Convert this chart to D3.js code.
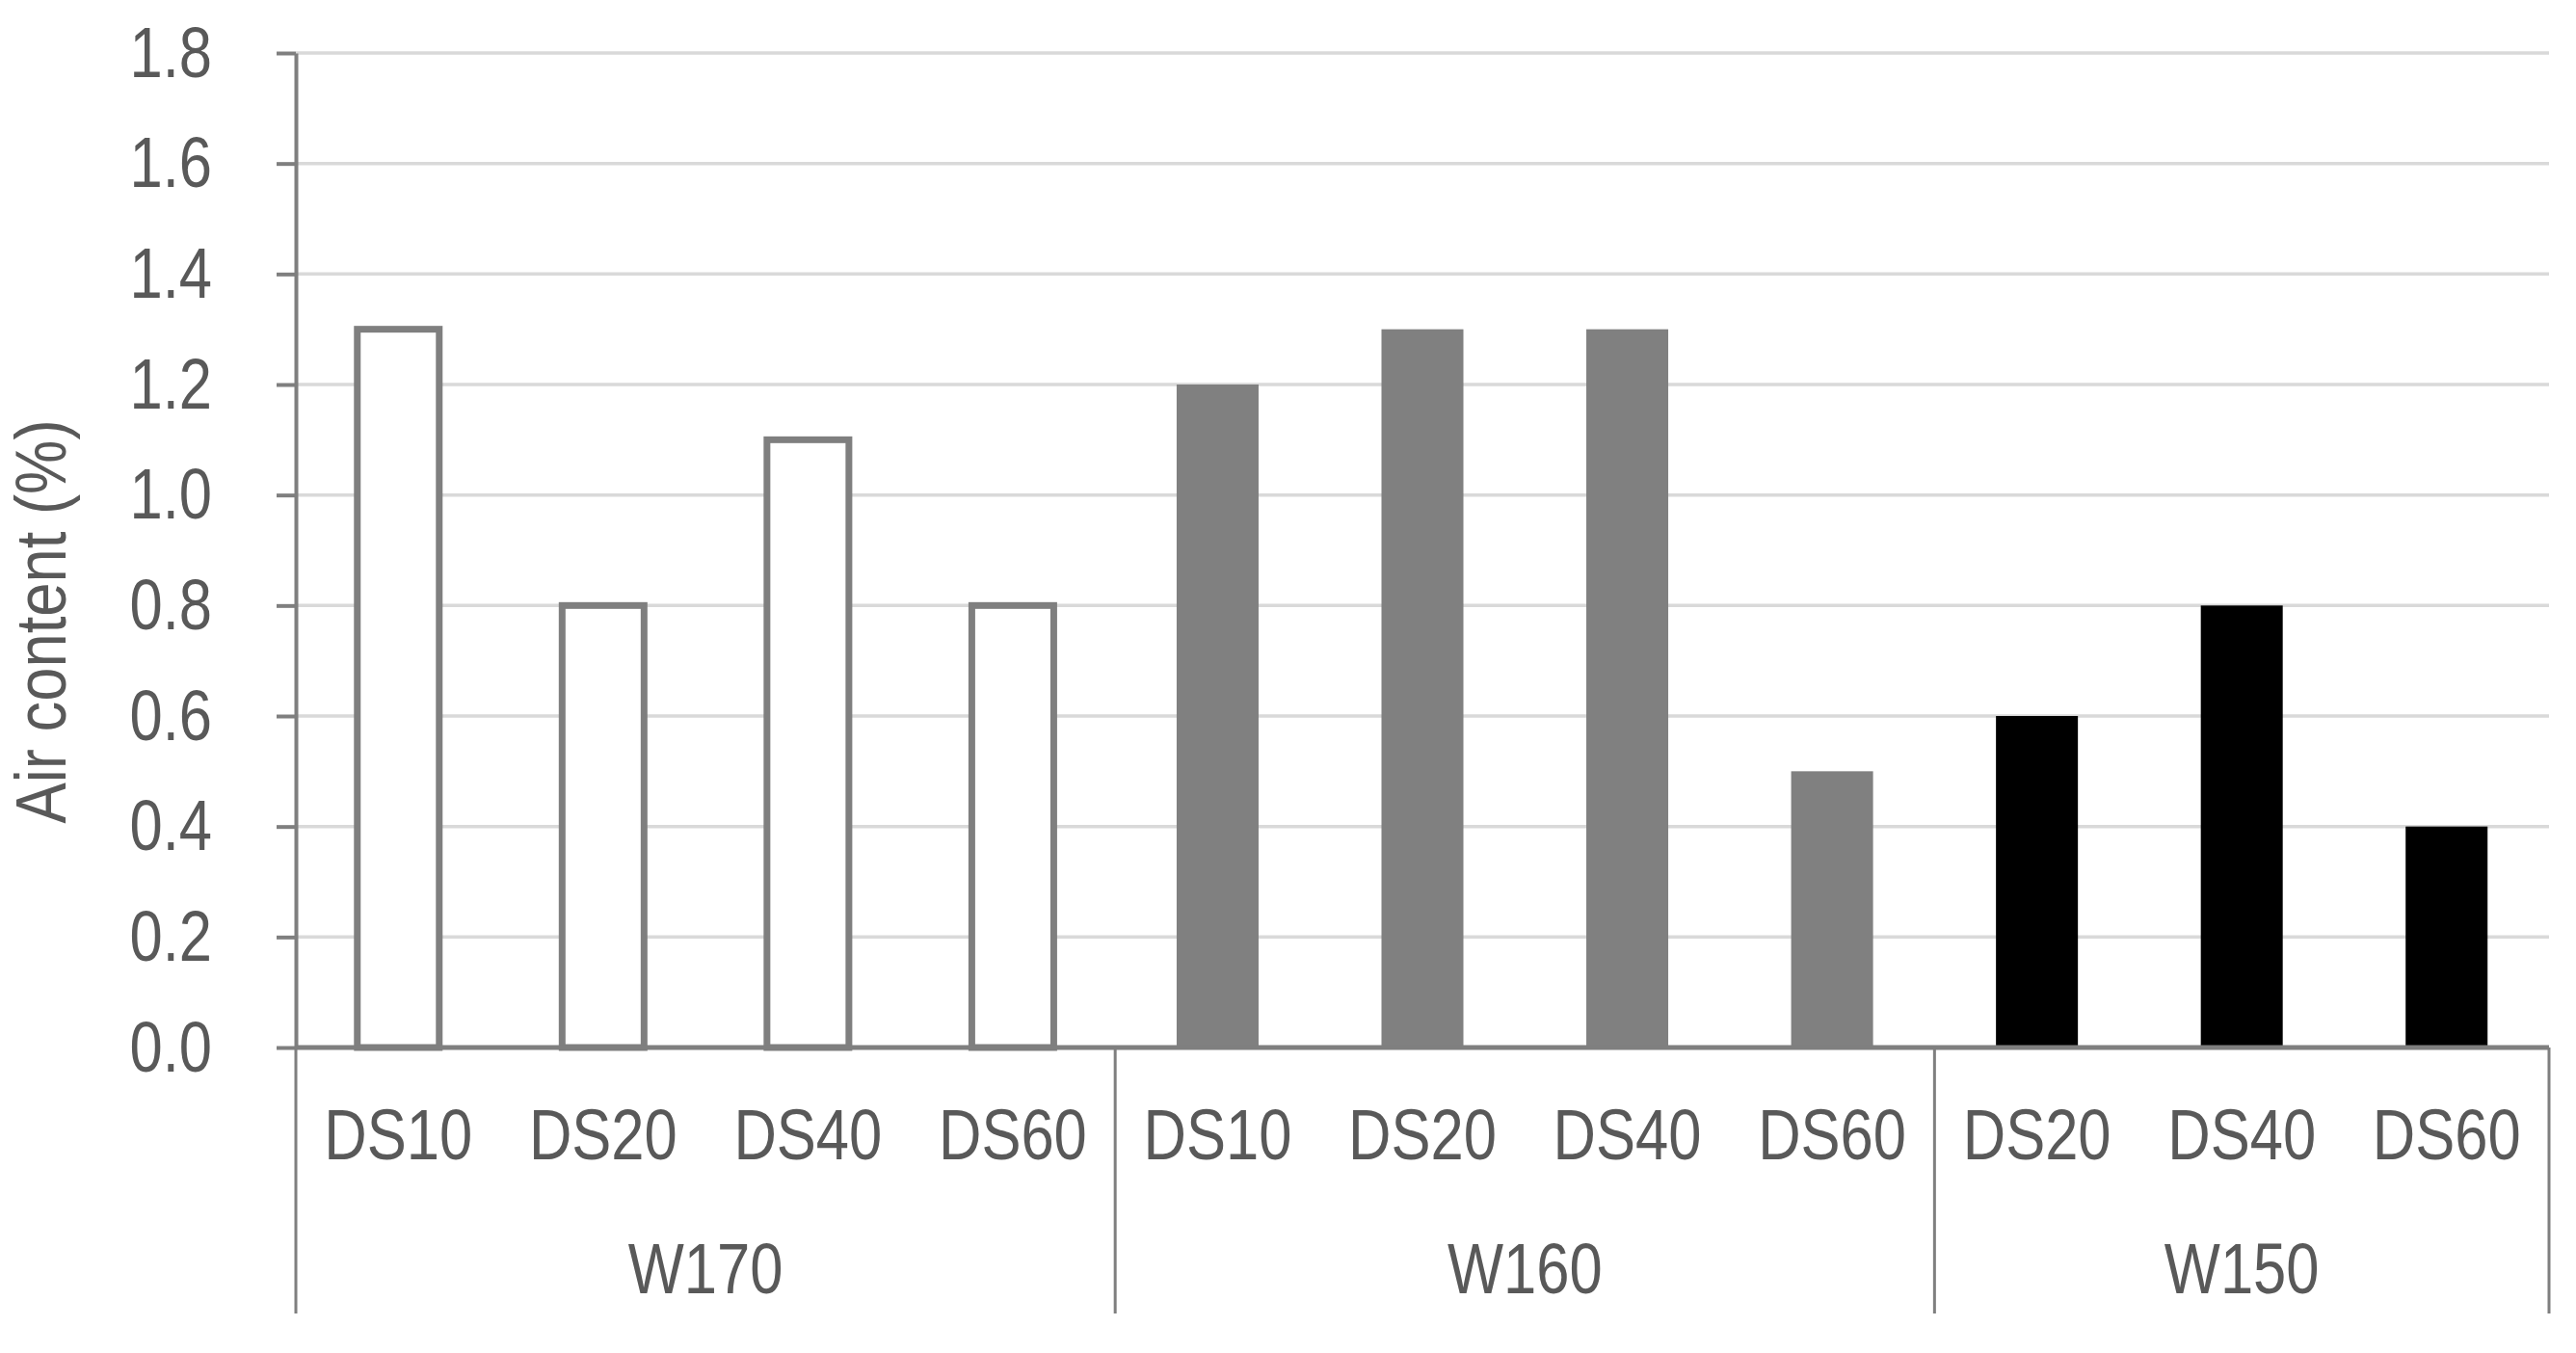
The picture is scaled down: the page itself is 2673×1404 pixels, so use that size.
<!DOCTYPE html>
<html lang="en">
<head>
  <meta charset="UTF-8" />
  <title>Air content</title>
  <script src="https://cdn.jsdelivr.net/npm/d3@7"></script>
  <style>
    body {
      margin: 0;
      background: white;
    }
    svg text {
      font-family: "Liberation Sans Narrow", "Arial Narrow", "Liberation Sans", Arial, sans-serif;
      font-size: 75px;
      fill: #595959;
    }
  </style>
</head>
<body>
  <div id="chart"></div>

  <script>
    // data
    const groups = ["W170", "W160", "W150"];
    const mixes = [
      ["DS10", "DS20", "DS40", "DS60"],
      ["DS10", "DS20", "DS40", "DS60"],
      ["DS20", "DS40", "DS60"]
    ];
    const airContent = [
      [1.3, 0.8, 1.1, 0.8],
      [1.2, 1.3, 1.3, 0.5],
      [0.6, 0.8, 0.4]
    ];
    const yTicks = [0, 0.2, 0.4, 0.6, 0.8, 1.0, 1.2, 1.4, 1.6, 1.8];
    const yTitle = "Air content (%)";

    const width = 2673;
    const height = 1404;
    const plotLeft = 307, plotRight = 2645, plotTop = 55, plotBottom = 1087;

    const barFill = { W170: "white", W160: "#808080", W150: "black" };
    const barStroke = { W170: "#7f7f7f", W160: "none", W150: "none" };

    const rows = [];
    groups.forEach((g, gi) => {
      mixes[gi].forEach((m, mi) => {
        rows.push({ key: g + "|" + m, group: g, mix: m, value: airContent[gi][mi] });
      });
    });

    const svg = d3.select("#chart")
      .append("svg")
      .attr("width", width)
      .attr("height", height);

    const x = d3.scaleBand()
      .domain(rows.map(d => d.key))
      .range([plotLeft, plotRight])
      .paddingInner(0.6)
      .paddingOuter(0.3);

    const y = d3.scaleLinear()
      .domain([0, 1.8])
      .range([plotBottom, plotTop]);

    // gridlines
    svg.append("g")
      .selectAll("line")
      .data(yTicks.filter(t => t > 0))
      .enter()
      .append("line")
      .attr("x1", plotLeft)
      .attr("x2", plotRight)
      .attr("y1", d => y(d))
      .attr("y2", d => y(d))
      .attr("stroke", "#d9d9d9")
      .attr("stroke-width", 3.5);

    // bars
    svg.append("g")
      .selectAll("rect")
      .data(rows)
      .enter()
      .append("rect")
      .attr("x", d => x(d.key))
      .attr("y", d => y(d.value))
      .attr("width", x.bandwidth())
      .attr("height", d => y(0) - y(d.value))
      .attr("fill", d => barFill[d.group])
      .attr("stroke", d => barStroke[d.group])
      .attr("stroke-width", 7);

    // y axis
    const yAxis = d3.axisLeft(y)
      .tickValues(yTicks)
      .tickFormat(d3.format(".1f"))
      .tickSize(20)
      .tickSizeOuter(0)
      .tickPadding(67);

    const gy = svg.append("g")
      .attr("transform", `translate(${plotLeft},0)`)
      .call(yAxis);
    gy.select(".domain").attr("stroke", "#7f7f7f").attr("stroke-width", 4);
    gy.selectAll(".tick line").attr("stroke", "#7f7f7f").attr("stroke-width", 4);
    gy.selectAll("text").attr("font-size", null).attr("font-family", null).attr("fill", null);

    // x axis: inner labels
    const xAxis = d3.axisBottom(x)
      .tickSize(0)
      .tickPadding(63)
      .tickFormat(k => k.split("|")[1]);

    const gx = svg.append("g")
      .attr("transform", `translate(0,${plotBottom})`)
      .call(xAxis);
    gx.select(".domain").remove();
    gx.selectAll("text").attr("font-size", null).attr("font-family", null).attr("fill", null);

    svg.append("line")
      .attr("x1", plotLeft)
      .attr("x2", plotRight)
      .attr("y1", y(0))
      .attr("y2", y(0))
      .attr("stroke", "#7f7f7f")
      .attr("stroke-width", 5);

    // group separators and outer labels
    const step = x.step();
    const edges = [];
    groups.forEach((g, gi) => {
      const first = x(g + "|" + mixes[gi][0]) - step * x.paddingOuter();
      const last = x(g + "|" + mixes[gi][mixes[gi].length - 1]) + x.bandwidth() + step * x.paddingOuter();
      edges.push({ group: g, x0: first, x1: last });
    });

    const sepX = [edges[0].x0].concat(edges.map(e => e.x1));
    svg.append("g")
      .selectAll("line")
      .data(sepX)
      .enter()
      .append("line")
      .attr("x1", d => d)
      .attr("x2", d => d)
      .attr("y1", plotBottom)
      .attr("y2", 1363)
      .attr("stroke", "#7f7f7f")
      .attr("stroke-width", 3);

    svg.append("g")
      .selectAll("text")
      .data(edges)
      .enter()
      .append("text")
      .attr("x", d => (d.x0 + d.x1) / 2)
      .attr("y", 1342)
      .attr("text-anchor", "middle")
      .text(d => d.group);

    // y title
    svg.append("text")
      .attr("class", "y-title")
      .attr("transform", "translate(68,645) rotate(-90)")
      .attr("text-anchor", "middle")
      .text(yTitle);

    // no narrow font installed: squeeze the regular one to the narrow width
    svg.selectAll("text").each(function() {
      const w = this.getComputedTextLength();
      const k = this.classList.contains("y-title") ? 0.845 : 0.82;
      d3.select(this)
        .attr("textLength", w * k)
        .attr("lengthAdjust", "spacingAndGlyphs");
    });
  </script>
</body>
</html>
